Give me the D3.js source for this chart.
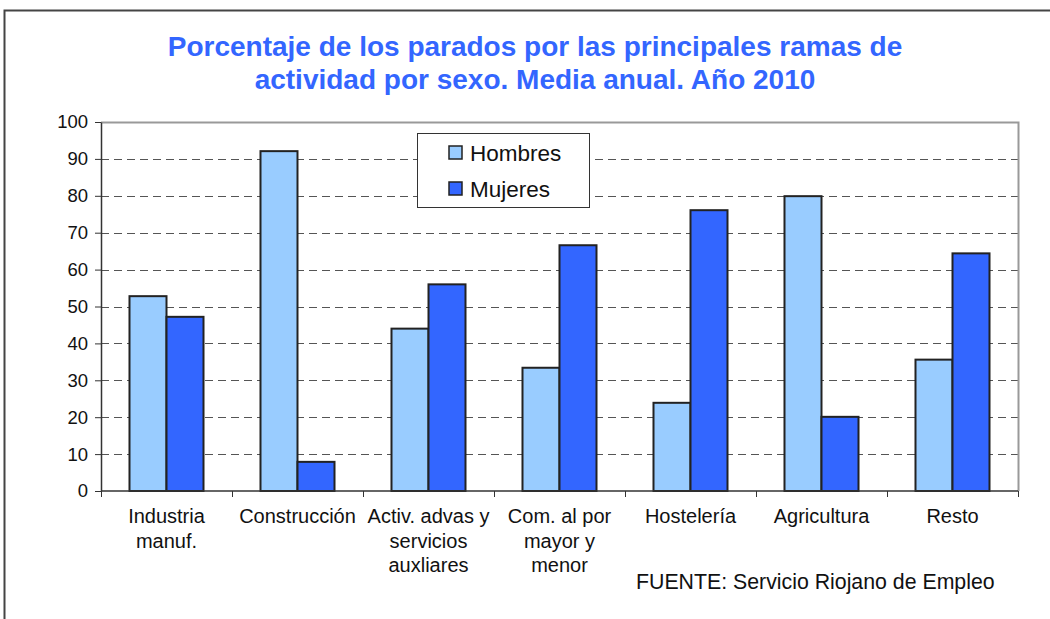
<!DOCTYPE html>
<html>
<head>
<meta charset="utf-8">
<script src="https://cdn.jsdelivr.net/npm/d3@7"></script>
<style>
  body { margin: 0; background: #fff; }
  svg { display: block; font-family: "Liberation Sans", Arial, sans-serif; }
</style>
</head>
<body>
<div id="chart"></div>
<script>
const categories = [
    ["Industria", "manuf."],
    ["Construcción"],
    ["Activ. advas y", "servicios", "auxliares"],
    ["Com. al por", "mayor y", "menor"],
    ["Hostelería"],
    ["Agricultura"],
    ["Resto"]
];
const seriesNames = ["Hombres", "Mujeres"];
const hombres = [52.8, 92.1, 44.0, 33.4, 23.9, 79.9, 35.6];
const mujeres = [47.2, 7.9, 56.0, 66.6, 76.1, 20.1, 64.4];
const yTicks = [0, 10, 20, 30, 40, 50, 60, 70, 80, 90, 100];

const W = 1050, H = 619;
const plot = { left: 101, right: 1018, top: 122, bottom: 491 };
const colors = ["#99CCFF", "#3366FF"];

const svg = d3.select("#chart")
    .append("svg")
    .attr("width", W)
    .attr("height", H);

// outer frame
svg.append("rect")
    .attr("x", 4.5).attr("y", 10.5)
    .attr("width", W + 20).attr("height", H + 20)
    .attr("fill", "none")
    .attr("stroke", "#444")
    .attr("stroke-width", 2);

// title
const title = svg.append("text")
    .attr("text-anchor", "middle")
    .attr("fill", "#3366FF")
    .attr("font-weight", "bold")
    .attr("font-size", "28px");
title.append("tspan").attr("x", 535).attr("y", 56)
    .text("Porcentaje de los parados por las principales ramas de");
title.append("tspan").attr("x", 535).attr("y", 89)
    .text("actividad por sexo. Media anual. Año 2010");

const keys = categories.map((d, i) => i);
const data = keys.map(i => ({ i, values: [hombres[i], mujeres[i]] }));

const x0 = d3.scaleBand()
    .domain(keys)
    .range([plot.left, plot.right])
    .paddingInner(0.435)
    .paddingOuter(0.2175);

const x1 = d3.scaleBand()
    .domain([0, 1])
    .range([0, x0.bandwidth()]);

const y = d3.scaleLinear()
    .domain([0, 100])
    .range([plot.bottom, plot.top]);

// gridlines
svg.append("g")
    .selectAll("line")
    .data(yTicks.filter(t => t > 0 && t < 100))
    .join("line")
    .attr("x1", plot.left).attr("x2", plot.right)
    .attr("y1", d => Math.round(y(d)) + 0.5)
    .attr("y2", d => Math.round(y(d)) + 0.5)
    .attr("stroke", "#555")
    .attr("stroke-width", 1.2)
    .attr("stroke-dasharray", "8,5");

// plot area top/right border
svg.append("path")
    .attr("d", `M${plot.left},${plot.top + 0.5}H${plot.right + 0.5}V${plot.bottom}`)
    .attr("fill", "none")
    .attr("stroke", "#999")
    .attr("stroke-width", 2);

// bars
svg.append("g")
    .selectAll("g")
    .data(data)
    .join("g")
    .attr("transform", d => `translate(${x0(d.i)},0)`)
    .selectAll("rect")
    .data(d => d.values.map((v, s) => ({ v, s })))
    .join("rect")
    .attr("x", d => x1(d.s))
    .attr("y", d => y(d.v))
    .attr("width", x1.bandwidth())
    .attr("height", d => y(0) - y(d.v))
    .attr("fill", d => colors[d.s])
    .attr("stroke", "#222")
    .attr("stroke-width", 2);

// y axis
const yAxis = svg.append("g")
    .attr("transform", `translate(${plot.left},0)`)
    .call(d3.axisLeft(y).tickValues(yTicks).tickSize(6).tickSizeOuter(0).tickPadding(7));
yAxis.select(".domain").attr("stroke", "#333").attr("stroke-width", 1.5);
yAxis.selectAll(".tick line").attr("stroke", "#333");
yAxis.selectAll("text")
    .attr("font-size", "18.5px")
    .attr("font-family", "Liberation Sans, Arial, sans-serif")
    .attr("fill", "#111");

// x axis: ticks at category boundaries
const step = x0.step();
const boundaries = d3.range(keys.length + 1).map(k => plot.left + k * step);
svg.append("line")
    .attr("x1", plot.left).attr("x2", plot.right)
    .attr("y1", plot.bottom).attr("y2", plot.bottom)
    .attr("stroke", "#333").attr("stroke-width", 1.5);
svg.append("g")
    .selectAll("line")
    .data(boundaries)
    .join("line")
    .attr("x1", d => Math.round(d) + 0.5).attr("x2", d => Math.round(d) + 0.5)
    .attr("y1", plot.bottom).attr("y2", plot.bottom + 6)
    .attr("stroke", "#333");

// category labels
const labels = svg.append("g")
    .selectAll("text")
    .data(data)
    .join("text")
    .attr("text-anchor", "middle")
    .attr("font-size", "20px")
    .attr("fill", "#111");
labels.selectAll("tspan")
    .data(d => categories[d.i].map(t => ({ t, x: x0(d.i) + x0.bandwidth() / 2 })))
    .join("tspan")
    .attr("x", d => d.x)
    .attr("y", (d, k) => 523 + k * 24.5)
    .text(d => d.t);

// legend
const legend = svg.append("g");
legend.append("rect")
    .attr("x", 417.5).attr("y", 133.5)
    .attr("width", 172).attr("height", 74)
    .attr("fill", "#fff")
    .attr("stroke", "#333")
    .attr("stroke-width", 1);
const items = legend.selectAll("g")
    .data(seriesNames)
    .join("g")
    .attr("transform", (d, i) => `translate(449,${146 + i * 36})`);
items.append("rect")
    .attr("width", 13).attr("height", 13)
    .attr("fill", (d, i) => colors[i])
    .attr("stroke", "#222")
    .attr("stroke-width", 1.5);
items.append("text")
    .attr("x", 21).attr("y", 15)
    .attr("font-size", "22.5px")
    .attr("fill", "#111")
    .text(d => d);

// source
svg.append("text")
    .attr("x", 636).attr("y", 589)
    .attr("font-size", "21.3px")
    .attr("fill", "#111")
    .text("FUENTE: Servicio Riojano de Empleo");
</script>
</body>
</html>
